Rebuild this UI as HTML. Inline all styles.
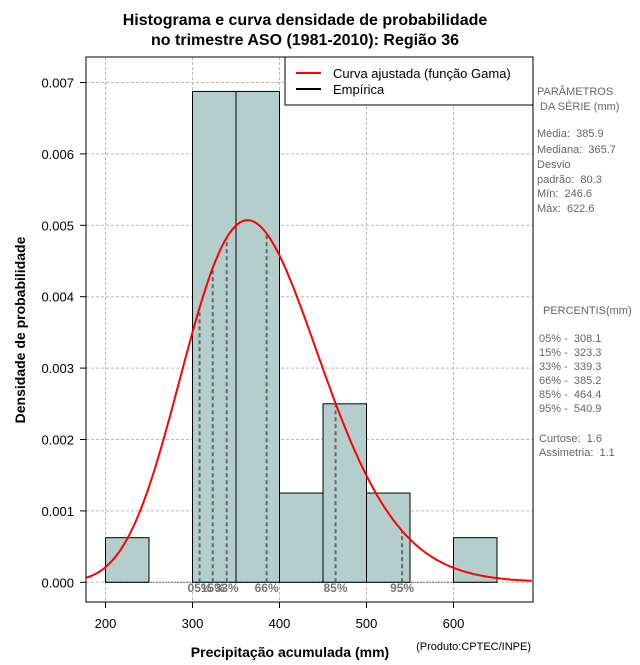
<!DOCTYPE html>
<html><head><meta charset="utf-8"><style>
body{margin:0;background:#fff}
svg text{font-family:"Liberation Sans",sans-serif;white-space:pre}
</style></head><body>
<svg id="c" width="640" height="660" xmlns="http://www.w3.org/2000/svg">
<rect width="640" height="660" fill="#fff"/>
<text x="305" y="25" text-anchor="middle" font-size="16" font-weight="bold">Histograma e curva densidade de probabilidade</text>
<text x="305" y="45" text-anchor="middle" font-size="16" font-weight="bold">no trimestre ASO (1981-2010): Região 36</text>
<g id="grid"></g>
<g id="bars"></g>
<g id="pct"></g>
<path id="curve" fill="none" stroke="#f00" stroke-width="2"/>
<rect x="86" y="57" width="447" height="545" fill="none" stroke="#000"/>
<g id="axes"></g>
<text x="290" y="657" text-anchor="middle" font-size="14" font-weight="bold">Precipitação acumulada (mm)</text>
<text x="531" y="650" text-anchor="end" font-size="11">(Produto:CPTEC/INPE)</text>
<text transform="translate(25,330) rotate(-90)" text-anchor="middle" font-size="14" font-weight="bold">Densidade de probabilidade</text>
<g>
<rect x="285" y="57" width="248" height="48" fill="#fff" stroke="#000"/>
<line x1="296" y1="73" x2="321" y2="73" stroke="#f00" stroke-width="2"/>
<text x="333" y="78" font-size="13">Curva ajustada (função Gama)</text>
<line x1="296" y1="89" x2="321" y2="89" stroke="#000" stroke-width="2"/>
<text x="333" y="94" font-size="13">Empírica</text>
</g>
<g font-size="11" fill="#666">
<text x="537" y="95">PARÂMETROS</text><text x="540" y="110">DA SÉRIE (mm)</text>
<text x="537" y="137">Média:  385.9</text><text x="537" y="153">Mediana:  365.7</text>
<text x="537" y="168">Desvio</text><text x="537" y="183">padrão:  80.3</text>
<text x="537" y="197">Mín:  246.6</text><text x="537" y="212">Máx:  622.6</text>
<text x="543" y="314">PERCENTIS(mm)</text>
<text x="539" y="342">05% -  308.1</text><text x="539" y="356">15% -  323.3</text>
<text x="539" y="370">33% -  339.3</text><text x="539" y="384">66% -  385.2</text>
<text x="539" y="398">85% -  464.4</text><text x="539" y="412">95% -  540.9</text>
<text x="539" y="442">Curtose:  1.6</text><text x="539" y="456">Assimetria:  1.1</text>
</g>
</svg>
<script>
const binStarts=[200,250,300,350,400,450,500,550,600];
const binDensity=[0.000625,0,0.006875,0.006875,0.00125,0.0025,0.00125,0,0.000625];
const binWidth=50;
const xTicks=[200,300,400,500,600];
const yTicks=[0,0.001,0.002,0.003,0.004,0.005,0.006,0.007];
const yTickLabels=["0.000","0.001","0.002","0.003","0.004","0.005","0.006","0.007"];
const pctValues=[308.1,323.3,339.3,385.2,464.4,540.9];
const pctLabels=["05%","15%","33%","66%","85%","95%"];
const curveShape=22.5;
const curveScale=16.9;
const X=v=>105.5+(v-200)*0.87;
const Y=d=>582.3-d*71400;
const NS="http://www.w3.org/2000/svg";
function mk(t,a,p){const e=document.createElementNS(NS,t);for(const k in a)e.setAttribute(k,a[k]);p.appendChild(e);return e;}
function lnG(z){return (z-0.5)*Math.log(z)-z+0.5*Math.log(2*Math.PI)+1/(12*z)-1/(360*z*z*z);}
function pdf(x){return Math.exp((curveShape-1)*Math.log(x)-x/curveScale-lnG(curveShape)-curveShape*Math.log(curveScale));}
const grid=document.getElementById('grid'),axes=document.getElementById('axes');
xTicks.forEach(v=>{const l=mk('line',{x1:X(v),x2:X(v),y1:57,y2:602,stroke:'#bbb','stroke-dasharray':'3,2'},grid);

const t=mk('line',{x1:X(v),x2:X(v),y1:602,y2:608,stroke:'#000'},axes);

const tx=mk('text',{x:X(v),y:628,'text-anchor':'middle','font-size':'13'},axes);tx.textContent=v;
});
yTicks.forEach((v,i)=>{const l=mk('line',{x1:86,x2:533,y1:Y(v),y2:Y(v),stroke:'#bbb','stroke-dasharray':'3,2'},grid);

const t=mk('line',{x1:80,x2:86,y1:Y(v),y2:Y(v),stroke:'#000'},axes);

const tx=mk('text',{x:74,y:Y(v)+5,'text-anchor':'end','font-size':'13'},axes);tx.textContent=yTickLabels[i];
});
const bars=document.getElementById('bars');
binStarts.forEach((s,i)=>{const d=binDensity[i];if(d<=0)return;
const r=mk('rect',{x:X(s),y:Y(d),width:X(s+binWidth)-X(s),height:Y(0)-Y(d),fill:'#b4cece',stroke:'#000'},bars);
});
const bl=mk('line',{x1:X(binStarts[0]),x2:X(binStarts[binStarts.length-1]+binWidth),y1:Y(0),y2:Y(0),stroke:'#000','stroke-dasharray':'1,2'},bars);

const pg=document.getElementById('pct');
pctValues.forEach((v,i)=>{const l=mk('line',{x1:X(v),x2:X(v),y1:Y(0),y2:Y(pdf(v)),stroke:'#666','stroke-width':'2','stroke-dasharray':'4,3'},pg);

const t=mk('text',{x:X(v),y:592,'text-anchor':'middle','font-size':'12','font-weight':'bold',fill:'#777','font-family':'Liberation Serif'},pg);t.textContent=pctLabels[i];
});
let d='';for(let x=178;x<=690;x+=2){d+=(x===178?'M':'L')+X(x).toFixed(1)+','+Y(pdf(x)).toFixed(1);}
document.getElementById('curve').setAttribute('d',d);
</script>
</body></html>
